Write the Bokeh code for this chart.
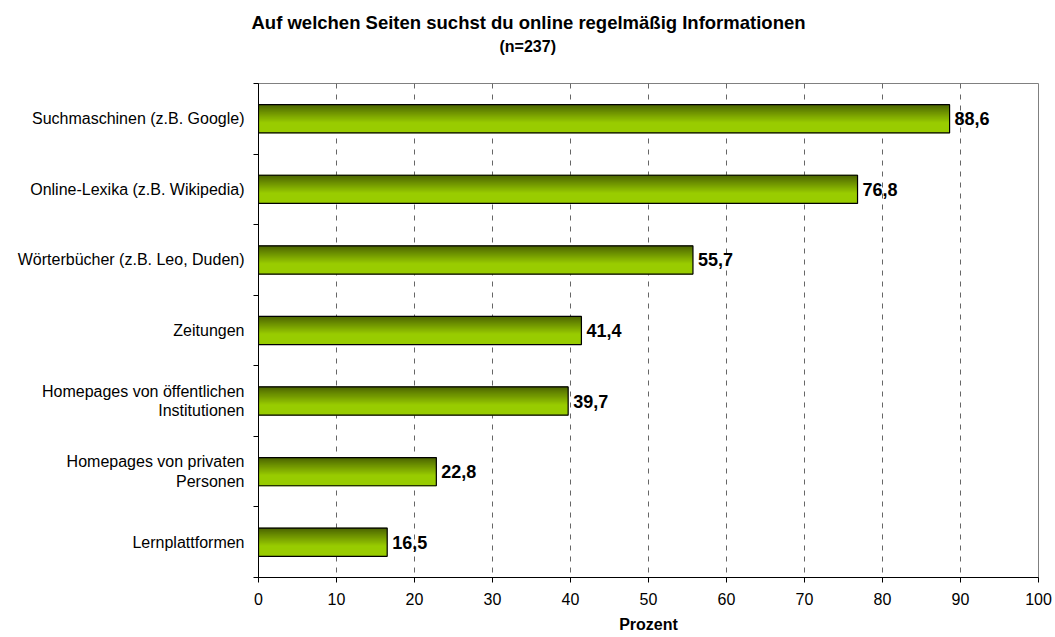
from bokeh.plotting import figure
from bokeh.models import Range1d, FixedTicker, Title
from bokeh.core.properties import value
from bokeh.embed import file_html
from bokeh.resources import INLINE

categories = [
    "Suchmaschinen (z.B. Google)",
    "Online-Lexika (z.B. Wikipedia)",
    "Wörterbücher (z.B. Leo, Duden)",
    "Zeitungen",
    "Homepages von öffentlichen\nInstitutionen",
    "Homepages von privaten\nPersonen",
    "Lernplattformen",
]
values = [88.6, 76.8, 55.7, 41.4, 39.7, 22.8, 16.5]
x_ticks = [0, 10, 20, 30, 40, 50, 60, 70, 80, 90, 100]
title_text = "Auf welchen Seiten suchst du online regelmäßig Informationen"
subtitle_text = "(n=237)"
x_label = "Prozent"

FONT = "Liberation Sans"
n = len(categories)
idx = list(range(n))

p = figure(width=1055, height=637, output_backend="svg", toolbar_location=None,
           x_range=Range1d(0, 100), y_range=Range1d(n - 0.5, -0.5),
           min_border_left=258, min_border_right=17, min_border_bottom=60, min_border_top=0)

# spacer between subtitle and plot frame
p.add_layout(Title(text=" ", text_font=FONT, text_font_size="20px", standoff=4), "above")
p.add_layout(Title(text=subtitle_text, align="left", offset=241, text_font=FONT, text_font_size="16px",
                   text_font_style="bold", text_color="black", standoff=2), "above")
p.add_layout(Title(text=title_text, align="left", offset=-7, text_font=FONT, text_font_size="18.5px",
                   text_font_style="bold", text_color="black", standoff=3), "above")
p.add_layout(Title(text=" ", text_font=FONT, text_font_size="5px", standoff=0), "above")

p.background_fill_color = "white"
p.border_fill_color = "white"
p.outline_line_color = "#808080"
p.outline_line_width = 1

# grid
p.ygrid.visible = False
p.xgrid.ticker = FixedTicker(ticks=x_ticks[1:-1])
p.xgrid.grid_line_color = "#666666"
p.xgrid.grid_line_dash = "5 6"
p.xgrid.grid_line_width = 1

# bars with vertical gradient
bar_h = 0.4
nslices = 28
dark = (0x4a, 0x62, 0x00)
bright = (0x99, 0xcc, 0x00)
sh = bar_h / nslices
for s in range(nslices):
    t = (s + 0.5) / nslices
    f = min(1.0, t / 0.65)
    c = tuple(int(round(dark[k] + (bright[k] - dark[k]) * f)) for k in range(3))
    col = "#%02x%02x%02x" % c
    ys = [i - bar_h / 2 + sh * (s + 0.5) for i in idx]
    p.hbar(y=ys, right=values, left=0, height=sh * 1.8, fill_color=col, line_color=None)

p.hbar(y=idx, right=values, left=0, height=bar_h, fill_color=None, line_color="black", line_width=1.2)

# value labels
labels = [("%.1f" % v).replace(".", ",") for v in values]
p.text(x=values, y=idx, text=labels, x_offset=5, text_baseline="middle", text_align="left",
       text_font=value(FONT), text_font_size="18px", text_font_style="bold", text_color="black")

# axes
p.xaxis.ticker = FixedTicker(ticks=x_ticks)
p.xaxis.axis_label = x_label
p.xaxis.axis_label_text_font = FONT
p.xaxis.axis_label_text_font_size = "16px"
p.xaxis.axis_label_text_font_style = "bold"
p.xaxis.axis_label_text_color = "black"
p.xaxis.axis_label_standoff = 8
p.xaxis.major_label_text_font = FONT
p.xaxis.major_label_text_font_size = "16px"
p.xaxis.major_label_text_color = "black"
p.xaxis.major_tick_out = 5
p.xaxis.major_tick_in = 0
p.xaxis.minor_tick_out = 0
p.xaxis.minor_tick_in = 0
p.xaxis.axis_line_color = "black"
p.xaxis.major_tick_line_color = "black"
p.xaxis.major_label_standoff = 10

p.yaxis.ticker = FixedTicker(ticks=idx, minor_ticks=[i - 0.5 for i in range(n + 1)])
p.yaxis.major_label_overrides = {i: categories[i] for i in idx}
p.yaxis.major_label_text_font = FONT
p.yaxis.major_label_text_font_size = "16px"
p.yaxis.major_label_text_color = "black"
p.yaxis.major_label_text_line_height = 1.15
p.yaxis.major_label_standoff = 9
p.yaxis.major_tick_out = 0
p.yaxis.major_tick_in = 0
p.yaxis.minor_tick_out = 5
p.yaxis.minor_tick_in = 0
p.yaxis.minor_tick_line_color = "black"
p.yaxis.axis_line_color = "black"

open("out.html", "w").write(file_html(p, INLINE))
